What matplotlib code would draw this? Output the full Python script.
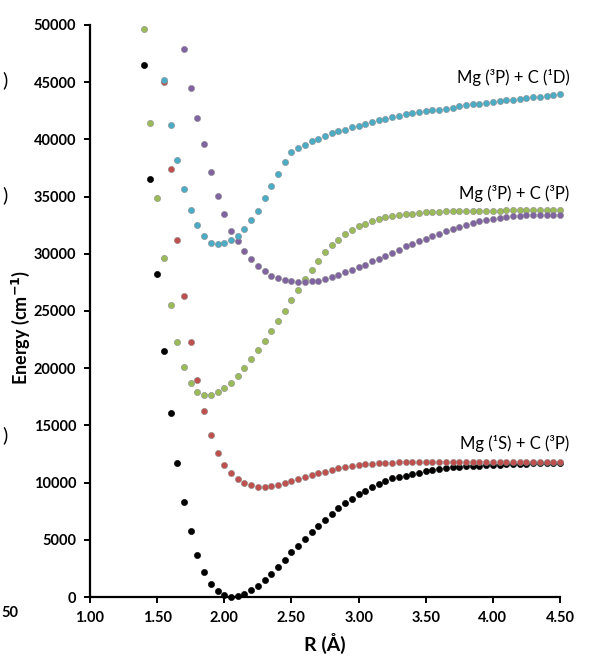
import matplotlib
matplotlib.use("Agg")
import matplotlib.pyplot as plt
import matplotlib.ticker as mticker

plt.rcParams["font.family"] = ["Lato", "DejaVu Sans"]

# ── data ───────────────────────────────────────────────────────────
R = [1.40, 1.45, 1.50, 1.55, 1.60, 1.65, 1.70, 1.75, 1.80, 1.85,
     1.90, 1.95, 2.00, 2.05, 2.10, 2.15, 2.20, 2.25, 2.30, 2.35,
     2.40, 2.45, 2.50, 2.55, 2.60, 2.65, 2.70, 2.75, 2.80, 2.85,
     2.90, 2.95, 3.00, 3.05, 3.10, 3.15, 3.20, 3.25, 3.30, 3.35,
     3.40, 3.45, 3.50, 3.55, 3.60, 3.65, 3.70, 3.75, 3.80, 3.85,
     3.90, 3.95, 4.00, 4.05, 4.10, 4.15, 4.20, 4.25, 4.30, 4.35,
     4.40, 4.45, 4.50]

e_black = [46500, 36500, 28200, 21500, 16100, 11700, 8300, 5750, 3650, 2200,
           1170, 520, 150, 30, 60, 240, 590, 940, 1460, 1990,
           2630, 3210, 3900, 4450, 5080, 5650, 6210, 6740, 7280, 7760,
           8210, 8600, 8960, 9300, 9620, 9920, 10150, 10360, 10530, 10620,
           10740, 10860, 10970, 11080, 11170, 11260, 11320, 11370, 11430, 11460,
           11490, 11520, 11550, 11580, 11600, 11620, 11640, 11650, 11670, 11680,
           11690, 11700, 11710]

# starts at 1.55
e_red = [45050, 37400, 31200, 26300, 22250, 19000, 16270,
         14170, 12600, 11580, 10850, 10300, 9980, 9750, 9630, 9630, 9700,
         9800, 9980, 10180, 10330, 10500, 10660, 10800, 10950, 11100, 11240,
         11370, 11470, 11550, 11610, 11660, 11690, 11720, 11750, 11770, 11790,
         11800, 11810, 11820, 11820, 11830, 11830, 11830, 11840, 11840, 11840,
         11840, 11840, 11840, 11840, 11840, 11840, 11840, 11840, 11840, 11840,
         11840, 11840, 11840]

e_green = [49640, 41400, 34900, 29600, 25550, 22300, 20120, 18670, 17920, 17650,
           17700, 17880, 18230, 18720, 19310, 20040, 20770, 21580, 22400, 23270,
           24120, 25010, 25950, 26870, 27820, 28610, 29400, 30120, 30740, 31230,
           31760, 32110, 32400, 32630, 32840, 33040, 33190, 33270, 33360, 33450,
           33510, 33570, 33620, 33650, 33680, 33710, 33730, 33740, 33750, 33760,
           33770, 33770, 33780, 33780, 33790, 33790, 33790, 33800, 33800, 33800,
           33800, 33800, 33800]

# starts at 1.70
e_purple = [47890, 44530, 41910, 39580,
            37130, 35060, 33450, 32020, 31120, 30250, 29550, 28930, 28520, 28080,
            27860, 27710, 27590, 27530, 27530, 27590, 27650, 27790, 27940, 28170,
            28380, 28610, 28840, 29050, 29340, 29570, 29830, 30070, 30360, 30650,
            30880, 31090, 31290, 31520, 31760, 31960, 32170, 32340, 32550, 32690,
            32840, 32920, 33040, 33130, 33220, 33270, 33330, 33360, 33390, 33420,
            33420, 33420, 33420]

# starts at 1.55
e_cyan = [45150, 41270, 38210, 35670, 33830, 32550, 31560,
          30970, 30830, 30920, 31210, 31560, 32140, 32960, 33770, 34860, 35930,
          36980, 38000, 38900, 39280, 39540, 39840, 40070, 40330, 40570, 40710,
          40860, 41060, 41210, 41350, 41500, 41670, 41820, 41970, 42080, 42200,
          42320, 42400, 42460, 42550, 42610, 42670, 42750, 42900, 42990, 43070,
          43130, 43190, 43280, 43330, 43420, 43480, 43540, 43630, 43690, 43740,
          43800, 43890, 43950]

labels = ["Mg (³P) + C (¹D)", "Mg (³P) + C (³P)", "Mg (¹S) + C (³P)"]
label_y = [45400, 35300, 13400]

# ── colours (Excel 2007 palette) ───────────────────────────────────
C_BLACK = "#000000"
C_RED = "#c0504d"
C_GREEN = "#9bbb59"
C_PURPLE = "#8064a2"
C_CYAN = "#4bacc6"

fig = plt.figure(figsize=(5.89, 6.66), dpi=100)
ax = fig.add_axes([0.1528, 0.1036, 0.798, 0.8589])

series = [
    (R, e_black, C_BLACK),
    (R[3:], e_red, C_RED),
    (R, e_green, C_GREEN),
    (R[6:], e_purple, C_PURPLE),
    (R[3:], e_cyan, C_CYAN),
]
for xs, ys, col in series:
    ax.scatter(xs, ys, s=20, color=col, edgecolors="#8a8a8a" if col != C_BLACK else C_BLACK,
               linewidths=0.4, zorder=3, clip_on=False)

ax.set_xlim(1.0, 4.5)
ax.set_ylim(0, 50000)
ax.xaxis.set_major_locator(mticker.MultipleLocator(0.5))
ax.yaxis.set_major_locator(mticker.MultipleLocator(5000))
ax.xaxis.set_major_formatter(mticker.FormatStrFormatter("%.2f"))

for side in ["top", "right"]:
    ax.spines[side].set_visible(False)
for side in ["left", "bottom"]:
    ax.spines[side].set_linewidth(1.6)

ax.tick_params(direction="out", length=4, width=1.4, labelsize=10.5, pad=6)
for lab in ax.get_xticklabels() + ax.get_yticklabels():
    lab.set_fontweight("bold")

ax.set_xlabel("R (Å)", fontsize=14, fontweight="bold")
ax.set_ylabel("Energy (cm$^{\\mathbf{-1}}$)", fontsize=13, fontweight="bold")
ax.xaxis.set_label_coords(0.5, -0.063)
ax.yaxis.set_label_coords(-0.123, 0.472)

for txt, yv in zip(labels, label_y):
    ax.text(4.57, yv, txt, ha="right", va="center", fontsize=12, clip_on=False)

# fragments of the neighbouring panel cut off at the left edge
for py in [80, 195, 435]:
    fig.text(8 / 589, 1 - py / 666, ")", ha="right", va="center", fontsize=14)
fig.text(1 / 589, 1 - 613 / 666, "50", ha="left", va="center", fontsize=10.5,
         fontweight="bold")

fig.savefig("out.png", dpi=100)
